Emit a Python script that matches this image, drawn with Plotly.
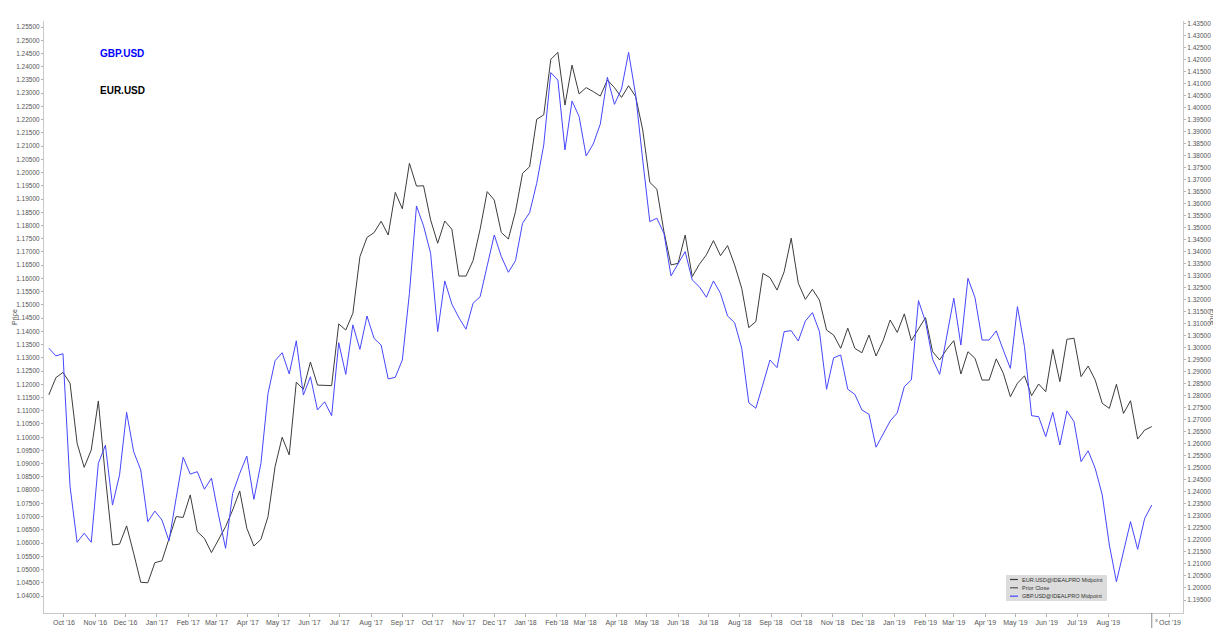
import pandas as pd
import plotly.graph_objects as go

# Weekly closes (Fridays), Sep 2016 - Sep 2019
start_date = "2016-09-16"
n_weeks = 157

eur_usd = [
    1.1160, 1.1225, 1.1245, 1.1204, 1.0977, 1.0886, 1.0952, 1.1137, 1.0850, 1.0593,
    1.0596, 1.0665, 1.0561, 1.0452, 1.0450, 1.0526, 1.0533, 1.0620, 1.0700, 1.0697,
    1.0782, 1.0643, 1.0618, 1.0564, 1.0614, 1.0662, 1.0725, 1.0797, 1.0656, 1.0589,
    1.0614, 1.0700, 1.0889, 1.1000, 1.0933, 1.1208, 1.1181, 1.1284, 1.1197, 1.1197,
    1.1195, 1.1428, 1.1405, 1.1468, 1.1682, 1.1755, 1.1773, 1.1816, 1.1764, 1.1925,
    1.1863, 1.2035, 1.1949, 1.1950, 1.1821, 1.1733, 1.1817, 1.1786, 1.1609, 1.1609,
    1.1667, 1.1786, 1.1928, 1.1896, 1.1773, 1.1749, 1.1852, 1.1997, 1.2022, 1.2201,
    1.2218, 1.2428, 1.2454, 1.2255, 1.2406, 1.2297, 1.2321, 1.2306, 1.2289, 1.2350,
    1.2321, 1.2284, 1.2328, 1.2287, 1.2161, 1.1963, 1.1937, 1.1777, 1.1651, 1.1657,
    1.1764, 1.1607, 1.1653, 1.1689, 1.1743, 1.1686, 1.1724, 1.1651, 1.1563, 1.1414,
    1.1437, 1.1619, 1.1603, 1.1556, 1.1625, 1.1752, 1.1582, 1.1521, 1.1559, 1.1518,
    1.1405, 1.1386, 1.1336, 1.1412, 1.1336, 1.1319, 1.1386, 1.1307, 1.1365, 1.1443,
    1.1396, 1.1466, 1.1365, 1.1409, 1.1452, 1.1323, 1.1292, 1.1332, 1.1365, 1.1239,
    1.1323, 1.1298, 1.1216, 1.1216, 1.1296, 1.1242, 1.1153, 1.1204, 1.1232, 1.1157,
    1.1201, 1.1172, 1.1332, 1.1210, 1.1370, 1.1374, 1.1229, 1.1269, 1.1216, 1.1128,
    1.1109, 1.1200, 1.1090, 1.1138, 1.0993, 1.1027, 1.1040,
]

gbp_usd = [
    1.2998, 1.2966, 1.2975, 1.2422, 1.2190, 1.2228, 1.2190, 1.2519, 1.2594, 1.2345,
    1.2470, 1.2731, 1.2567, 1.2491, 1.2276, 1.2320, 1.2283, 1.2196, 1.2373, 1.2544,
    1.2474, 1.2484, 1.2411, 1.2457, 1.2304, 1.2165, 1.2394, 1.2477, 1.2549, 1.2369,
    1.2519, 1.2810, 1.2946, 1.2979, 1.2891, 1.3029, 1.2803, 1.2879, 1.2741, 1.2775,
    1.2717, 1.3021, 1.2889, 1.3095, 1.2993, 1.3132, 1.3039, 1.3011, 1.2870, 1.2877,
    1.2949, 1.3226, 1.3590, 1.3507, 1.3393, 1.3067, 1.3278, 1.3182, 1.3125, 1.3077,
    1.3185, 1.3212, 1.3341, 1.3469, 1.3379, 1.3314, 1.3362, 1.3518, 1.3562, 1.3684,
    1.3844, 1.4145, 1.4114, 1.3823, 1.4027, 1.3962, 1.3798, 1.3848, 1.3931, 1.4126,
    1.4013, 1.4077, 1.4229, 1.4052, 1.3781, 1.3525, 1.3539, 1.3476, 1.3299, 1.3351,
    1.3400, 1.3282, 1.3254, 1.3210, 1.3278, 1.3226, 1.3132, 1.3104, 1.2998, 1.2771,
    1.2748, 1.2848, 1.2949, 1.2917, 1.3067, 1.3071, 1.3028, 1.3111, 1.3146, 1.3067,
    1.2827, 1.2958, 1.2970, 1.2827, 1.2806, 1.2741, 1.2723, 1.2586, 1.2638, 1.2695,
    1.2729, 1.2838, 1.2866, 1.3196, 1.3108, 1.2952, 1.2889, 1.3049, 1.3206, 1.3011,
    1.3289, 1.3208, 1.3032, 1.3032, 1.3070, 1.2990, 1.2914, 1.3171, 1.3004, 1.2717,
    1.2713, 1.2630, 1.2731, 1.2595, 1.2737, 1.2692, 1.2526, 1.2571, 1.2498, 1.2387,
    1.2179, 1.2026, 1.2151, 1.2276, 1.2161, 1.2290, 1.2345,
]

month_ticks = [
    "2016-10-01", "2016-11-01", "2016-12-01", "2017-01-01", "2017-02-01", "2017-03-01",
    "2017-04-01", "2017-05-01", "2017-06-01", "2017-07-01", "2017-08-01", "2017-09-01",
    "2017-10-01", "2017-11-01", "2017-12-01", "2018-01-01", "2018-02-01", "2018-03-01",
    "2018-04-01", "2018-05-01", "2018-06-01", "2018-07-01", "2018-08-01", "2018-09-01",
    "2018-10-01", "2018-11-01", "2018-12-01", "2019-01-01", "2019-02-01", "2019-03-01",
    "2019-04-01", "2019-05-01", "2019-06-01", "2019-07-01", "2019-08-01", "2019-10-01",
]
month_labels = [
    "Oct '16", "Nov '16", "Dec '16", "Jan '17", "Feb '17", "Mar '17",
    "Apr '17", "May '17", "Jun '17", "Jul '17", "Aug '17", "Sep '17",
    "Oct '17", "Nov '17", "Dec '17", "Jan '18", "Feb '18", "Mar '18",
    "Apr '18", "May '18", "Jun '18", "Jul '18", "Aug '18", "Sep '18",
    "Oct '18", "Nov '18", "Dec '18", "Jan '19", "Feb '19", "Mar '19",
    "Apr '19", "May '19", "Jun '19", "Jul '19", "Aug '19", "Oct '19",
]

left_ticks = [round(1.040 + 0.005 * i, 3) for i in range(44)]   # 1.040 .. 1.255
right_ticks = [round(1.195 + 0.005 * i, 3) for i in range(49)]  # 1.195 .. 1.435
left_ticktext = [f"{v:.5f}" for v in left_ticks]
right_ticktext = [f"{v:.5f}" for v in right_ticks]

series_names = ["EUR.USD@IDEALPRO Midpoint", "Prior Close", "GBP.USD@IDEALPRO Midpoint"]
series_colors = ["#3c3c3c", "#555555", "#4646ff"]
series_dash = ["solid", "dash", "solid"]

dates = pd.date_range(start_date, periods=n_weeks, freq="7D")

FONT = "Liberation Sans, Arial, sans-serif"
TICK_FONT = dict(family=FONT, size=7, color="#555555")
YTICK_FONT = dict(family=FONT, size=6.5, color="#555555")

# plot area in screen pixels (page has an 8px body offset)
PL, PR, PT, PB = 44, 1183, 21, 613


def px(xp):
    return (xp - PL) / (PR - PL)


def py(yp):
    return (PB - yp) / (PB - PT)


fig = go.Figure()
fig.add_trace(go.Scatter(
    x=dates, y=eur_usd, name=series_names[0], mode="lines",
    line=dict(color=series_colors[0], width=1), yaxis="y", showlegend=False,
))
fig.add_trace(go.Scatter(
    x=dates, y=gbp_usd, name=series_names[2], mode="lines",
    line=dict(color=series_colors[2], width=1), yaxis="y2", showlegend=False,
))

axis_common = dict(
    showline=True, linecolor="#c8c8c8", linewidth=1, showgrid=False, zeroline=False,
    ticks="outside", tickcolor="#b0b0b0", automargin=False,
)

fig.update_layout(
    width=1221, height=642,
    margin=dict(l=PL - 8, r=1221 - (PR - 8), t=PT - 8, b=642 - (PB - 8)),
    paper_bgcolor="white", plot_bgcolor="white",
    font=dict(family=FONT, size=7, color="#444"),
    showlegend=False,
    xaxis=dict(
        range=["2016-09-11 05:00", "2019-10-13 22:00"],
        tickmode="array", tickvals=month_ticks, ticktext=month_labels,
        ticklen=3, tickfont=TICK_FONT, **axis_common,
    ),
    yaxis=dict(
        range=[1.03358, 1.25727], side="left",
        tickmode="array", tickvals=left_ticks, ticktext=left_ticktext,
        ticklen=2, tickfont=YTICK_FONT, **axis_common,
    ),
    yaxis2=dict(
        range=[1.18959, 1.43598], side="right", overlaying="y",
        tickmode="array", tickvals=right_ticks, ticktext=right_ticktext,
        ticklen=2, tickfont=YTICK_FONT, **axis_common,
    ),
)

fig.add_annotation(
    text="<b>GBP.USD</b>", xref="paper", yref="paper", x=px(98), y=py(54),
    xanchor="left", yanchor="middle", showarrow=False,
    font=dict(family=FONT, size=10, color="#0000ff"),
)
fig.add_annotation(
    text="<b>EUR.USD</b>", xref="paper", yref="paper", x=px(98), y=py(90),
    xanchor="left", yanchor="middle", showarrow=False,
    font=dict(family=FONT, size=10, color="#000000"),
)
fig.add_annotation(
    text="Price", xref="paper", yref="paper", x=px(14), y=py(317),
    xanchor="center", yanchor="middle", showarrow=False, textangle=-90,
    font=dict(family=FONT, size=7, color="#444"),
)
fig.add_annotation(
    text="Price", xref="paper", yref="paper", x=px(1213), y=py(317),
    xanchor="center", yanchor="middle", showarrow=False, textangle=90,
    font=dict(family=FONT, size=7, color="#444"),
)

# end-of-data marker below the time axis
fig.add_shape(
    type="line", xref="x", yref="paper", x0=dates[-1], x1=dates[-1],
    y0=0, y1=py(628), line=dict(color="#888888", width=1),
)
fig.add_annotation(
    text="x", xref="x", yref="paper", x=dates[-1], y=py(620), xshift=5,
    xanchor="center", yanchor="middle", showarrow=False,
    font=dict(family=FONT, size=6, color="#666"),
)

# legend panel
fig.add_shape(
    type="rect", xref="paper", yref="paper", x0=px(1006), x1=px(1107),
    y0=py(601), y1=py(575), fillcolor="#dcdcdc", line=dict(width=0), layer="above",
)
legend_rows = [579.5, 587.8, 596.2]
for name, color, dash, ry in zip(series_names, series_colors, series_dash, legend_rows):
    fig.add_shape(
        type="line", xref="paper", yref="paper", x0=px(1010), x1=px(1018),
        y0=py(ry), y1=py(ry), line=dict(color=color, width=1.2, dash=dash), layer="above",
    )
    fig.add_annotation(
        text=name, xref="paper", yref="paper", x=px(1020), y=py(ry),
        xanchor="left", yanchor="middle", showarrow=False,
        font=dict(family=FONT, size=5.5, color="#333"),
    )

fig.write_html("out.html")
